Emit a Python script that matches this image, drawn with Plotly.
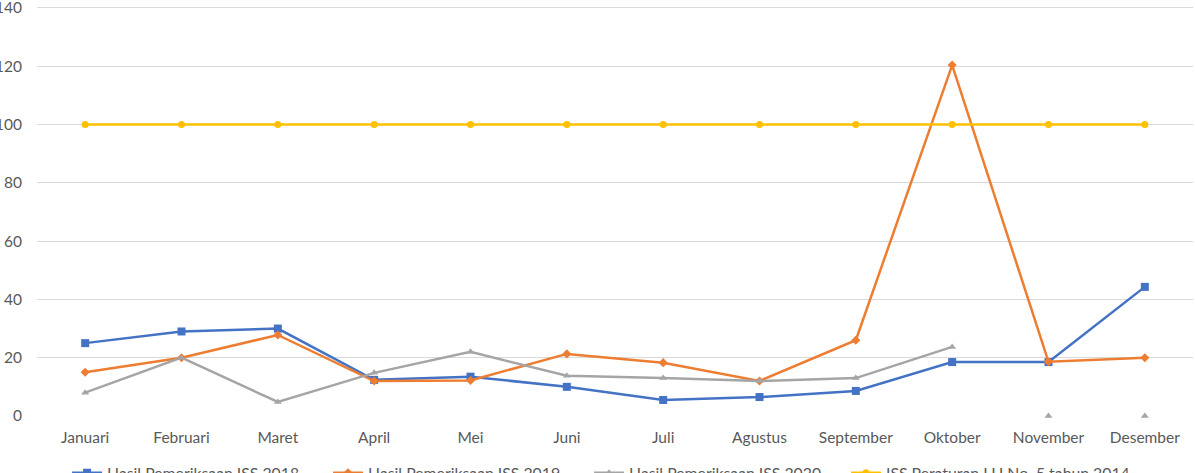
import plotly.graph_objects as go

months = ["Januari", "Februari", "Maret", "April", "Mei", "Juni", "Juli",
          "Agustus", "September", "Oktober", "November", "Desember"]
iss_2018 = [25, 29, 30, 12.4, 13.5, 10, 5.5, 6.5, 8.6, 18.5, 18.5, 44.3]
iss_2019 = [15, 20, 27.8, 12, 12.2, 21.3, 18.3, 12, 26, 120.4, 18.6, 20]
iss_2020 = [8, 20, 4.8, 14.8, 22, 13.8, 13, 12, 13, 23.7, 0, 0]
iss_baku = [100] * 12
y_ticks = [0, 20, 40, 60, 80, 100, 120, 140]

names = ["Hasil Pemeriksaan ISS 2018", "Hasil Pemeriksaan ISS 2019",
         "Hasil Pemeriksaan ISS 2020", "ISS Peraturan LH No. 5 tahun 2014"]
colors = ["#4472C4", "#ED7D31", "#A5A5A5", "#FFC000"]
FONT = "Lato"
TXT = "#595959"

fig = go.Figure()
fig.add_trace(go.Scatter(x=months, y=iss_2018, name=names[0], mode="lines+markers",
                         line=dict(color=colors[0], width=2.5),
                         marker=dict(symbol="square", size=8, color=colors[0]),
                         cliponaxis=False, legend="legend"))
fig.add_trace(go.Scatter(x=months, y=iss_2019, name=names[1], mode="lines+markers",
                         line=dict(color=colors[1], width=2.5),
                         marker=dict(symbol="diamond", size=7, color=colors[1]),
                         cliponaxis=False, legend="legend"))
fig.add_trace(go.Scatter(x=months[:10], y=iss_2020[:10], name=names[2], mode="lines+markers",
                         line=dict(color=colors[2], width=2.5),
                         marker=dict(symbol="triangle-up", size=7, color=colors[2]),
                         cliponaxis=False, legend="legend"))
fig.add_trace(go.Scatter(x=months[10:], y=iss_2020[10:], name=names[2], mode="markers",
                         marker=dict(symbol="triangle-up", size=7, color=colors[2]),
                         showlegend=False, cliponaxis=False))
fig.add_trace(go.Scatter(x=months, y=iss_baku, name=names[3], mode="lines+markers",
                         line=dict(color=colors[3], width=2.5),
                         marker=dict(symbol="circle", size=7, color=colors[3]),
                         cliponaxis=False, legend="legend2"))

legend_common = dict(orientation="h", xanchor="left", xref="paper",
                     y=0.036, yanchor="top", yref="container", itemwidth=30,
                     font=dict(family=FONT, size=15.8, color=TXT),
                     bgcolor="rgba(0,0,0,0)")

fig.update_layout(
    width=1195, height=473,
    margin=dict(l=37, r=2, t=5, b=57),
    plot_bgcolor="white", paper_bgcolor="white",
    font=dict(family=FONT, size=15.5, color=TXT),
    showlegend=True,
    legend=dict(x=0.026, entrywidth=216, entrywidthmode="pixels", **legend_common),
    legend2=dict(x=0.6998, **legend_common),
    xaxis=dict(range=[-0.5, 11.5], showgrid=False, showline=False, zeroline=False,
               ticks="", ticklabelstandoff=10, automargin=False,
               tickfont=dict(family=FONT, size=15.5, color=TXT), fixedrange=True),
    yaxis=dict(range=[0, 141], tickmode="array", tickvals=y_ticks,
               showgrid=True, gridcolor="#D9D9D9",
               gridwidth=1, zeroline=False, showline=False,
               ticks="outside", ticklen=11, tickcolor="rgba(0,0,0,0)",
               ticklabeloverflow="allow", automargin=False,
               tickfont=dict(family=FONT, size=15.5, color=TXT)),
)

fig.write_html("out.html")
